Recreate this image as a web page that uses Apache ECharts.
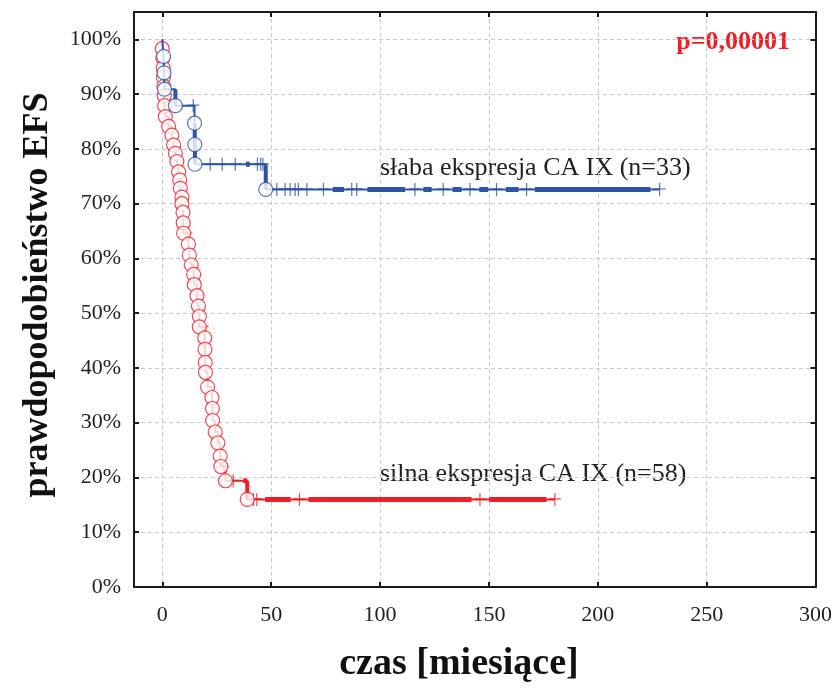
<!DOCTYPE html>
<html>
<head>
<meta charset="utf-8">
<script src="https://cdn.jsdelivr.net/npm/echarts@6/dist/echarts.min.js"></script>
<style>
  html, body { margin: 0; padding: 0; background: #ffffff; }
  #chart { width: 835px; height: 692px; }
</style>
</head>
<body>
<div id="chart"></div>
<script>
// Axis ticks
const xTicks = [0, 50, 100, 150, 200, 250, 300];
const yTicks = [0, 10, 20, 30, 40, 50, 60, 70, 80, 90, 100];

// Weak CA IX expression (n=33): event times [months] and survival after each event [%]
const weakEventTimes = [0.6, 0.8, 1.0, 6.0, 14.8, 14.9, 15.0, 47.5];
const weakEventSurv  = [96.9, 93.9, 90.9, 87.9, 84.7, 80.8, 77.2, 72.6];
// censored observations [months]
const weakCensored = [14.2, 22.0, 27.5, 33.5, 43.7, 45.2, 46.2,
  52.6, 56.4, 58.7, 61.0, 62.5, 66.4, 74.0, 87.0, 89.3, 116.0, 129.0,
  141.3, 153.5, 167.3, 228.4];
// stretches with densely packed censored observations [from, to] in months
const weakDense = [[38.4, 40.2], [78.3, 83.5], [94.2, 111.5], [119.9, 123.7],
  [133.3, 137.5], [145.6, 149.7], [157.8, 163.6], [171.1, 224.2]];
// event times whose drop is drawn heavy (overlapping marks)
const weakHeavyDrops = [6.0, 14.9, 15.0, 47.5];

// Strong CA IX expression (n=58)
const strongEventTimes = [0, 0.2, 0.4, 0.5, 0.7, 0.9, 1.1, 1.4, 2.9, 4.4, 5.2, 6.0,
  6.7, 7.5, 8.0, 8.3, 9.0, 9.0, 9.5, 9.6, 9.8, 12.0, 12.4, 13.3, 14.4, 14.7, 15.9,
  16.6, 17.0, 17.0, 19.5, 19.6, 19.7, 19.8, 20.8, 22.8, 23.0, 23.1, 24.3, 25.5,
  26.6, 26.9, 29.0, 39.0];
const strongEventSurv = [98.3, 96.6, 94.8, 93.1, 91.4, 89.7, 87.9, 85.9, 84.1, 82.5,
  80.7, 79.2, 77.7, 75.8, 74.3, 72.8, 71.2, 70.0, 68.4, 66.5, 64.6, 62.6, 60.6, 58.8,
  57.1, 55.2, 53.2, 51.3, 49.4, 47.5, 45.5, 43.4, 41.0, 39.2, 36.5, 34.6, 32.6, 30.4,
  28.3, 26.3, 23.9, 22.0, 19.4, 16.0];
const strongCensored = [11.0, 16.2, 18.5, 28.0, 32.6, 41.9, 43.4, 63.0, 145.9, 180.3];
const strongDense = [[37.2, 39.0], [47.2, 59.0], [67.1, 142.0], [150.1, 176.5]];
const strongHeavyDrops = [39.0];

const BLUE = '#2f54a3';
const RED = '#ee1f27';
const SERIF = '"Liberation Serif", "Times New Roman", serif';

// survival level of a Kaplan-Meier curve at time t
function levelAt(times, surv, t) {
  let s = 100;
  for (let i = 0; i < times.length; i++) {
    if (times[i] < t) s = surv[i];
  }
  return s;
}

function curveSeries(times, surv, censored, dense, heavy, color, z) {
  const last = censored[censored.length - 1];
  const stepData = [[0, 100]];
  times.forEach((t, i) => stepData.push([t, surv[i]]));
  stepData.push([last, levelAt(times, surv, last)]);

  const list = [{
    type: 'line', data: stepData, step: 'end', symbol: 'none',
    lineStyle: { color: color, width: 2 }, z: z, silent: true, animation: false
  }];
  dense.forEach(([a, b]) => {
    const lvl = levelAt(times, surv, a);
    list.push({
      type: 'line', data: [[a, lvl], [b, lvl]], symbol: 'none',
      lineStyle: { color: color, width: 5, cap: 'butt' }, z: z + 1, silent: true, animation: false
    });
  });
  heavy.forEach(t => {
    const i = times.indexOf(t);
    const before = i > 0 ? surv[i - 1] : 100;
    list.push({
      type: 'line', data: [[t, before], [t, surv[i]]], symbol: 'none',
      lineStyle: { color: color, width: 4, cap: 'butt' }, z: z + 1, silent: true, animation: false
    });
  });
  list.push({
    type: 'scatter',
    data: censored.map(t => [t, levelAt(times, surv, t)]),
    symbol: 'path://M0,5.4H12V6.6H0Z M5.4,0H6.6V13H5.4Z',
    symbolSize: [12, 13],
    itemStyle: { color: color },
    z: z + 1, silent: true, animation: false
  });
  list.push({
    type: 'scatter',
    data: times.map((t, i) => [t, surv[i]]),
    symbol: 'circle', symbolSize: 14,
    itemStyle: { color: '#ffffff', borderColor: color, borderWidth: 1.2 },
    z: z + 2, silent: true, animation: false
  });
  return list;
}

const axisBase = {
  axisLine: { show: true, onZero: false, lineStyle: { color: '#1a1a1a', width: 2 } },
  axisTick: { show: true, inside: true, length: 5, lineStyle: { color: '#1a1a1a', width: 2 } },
  splitLine: { show: false },
  axisLabel: { show: false }
};
const gridLine = { show: true, lineStyle: { color: '#c9c9c9', type: [4, 3], width: 1 } };

const chart = echarts.init(document.getElementById('chart'), null, { renderer: 'canvas' });
chart.setOption({
  backgroundColor: '#ffffff',
  animation: false,
  grid: { left: 134, right: 18, top: 12, bottom: 105 },
  xAxis: [
    Object.assign({}, axisBase, {
      type: 'value', min: -13, max: 300, position: 'bottom',
      axisTick: Object.assign({}, axisBase.axisTick, { customValues: xTicks }),
      splitLine: gridLine,
      axisLabel: {
        show: true, margin: 17, color: '#222', fontFamily: SERIF, fontSize: 22,
        customValues: xTicks, formatter: v => String(v)
      }
    }),
    Object.assign({}, axisBase, {
      type: 'value', min: -13, max: 300, position: 'top',
      axisTick: Object.assign({}, axisBase.axisTick, { customValues: xTicks })
    })
  ],
  yAxis: [
    Object.assign({}, axisBase, {
      type: 'value', min: 0, max: 105, position: 'left',
      axisTick: Object.assign({}, axisBase.axisTick, { customValues: yTicks }),
      splitLine: gridLine,
      axisLabel: {
        show: true, margin: 13, color: '#222', fontFamily: SERIF, fontSize: 22,
        customValues: yTicks, formatter: v => v + '%'
      }
    }),
    Object.assign({}, axisBase, {
      type: 'value', min: 0, max: 105, position: 'right',
      axisTick: Object.assign({}, axisBase.axisTick, { customValues: yTicks })
    })
  ],
  series: [].concat(
    curveSeries(strongEventTimes, strongEventSurv, strongCensored, strongDense, strongHeavyDrops, RED, 2),
    curveSeries(weakEventTimes, weakEventSurv, weakCensored, weakDense, weakHeavyDrops, BLUE, 6)
  ),
  graphic: [
    { type: 'text', x: 790, y: 42, style: { text: 'p=0,00001', fill: RED,
      font: 'bold 26px ' + SERIF, textAlign: 'right', textVerticalAlign: 'middle' } },
    { type: 'text', x: 380, y: 168, style: { text: 'słaba ekspresja CA IX (n=33)', fill: '#222',
      font: '26px ' + SERIF, textAlign: 'left', textVerticalAlign: 'middle' } },
    { type: 'text', x: 380, y: 474, style: { text: 'silna ekspresja CA IX (n=58)', fill: '#222',
      font: '26px ' + SERIF, textAlign: 'left', textVerticalAlign: 'middle' } },
    { type: 'text', x: 459, y: 664, style: { text: 'czas [miesiące]', fill: '#111',
      font: 'bold 38px ' + SERIF, textAlign: 'center', textVerticalAlign: 'middle' } },
    { type: 'text', x: 38, y: 295, rotation: Math.PI / 2, style: { text: 'prawdopodobieństwo EFS',
      fill: '#111', font: 'bold 36px ' + SERIF, textAlign: 'center', textVerticalAlign: 'middle' } }
  ]
});
</script>
</body>
</html>
